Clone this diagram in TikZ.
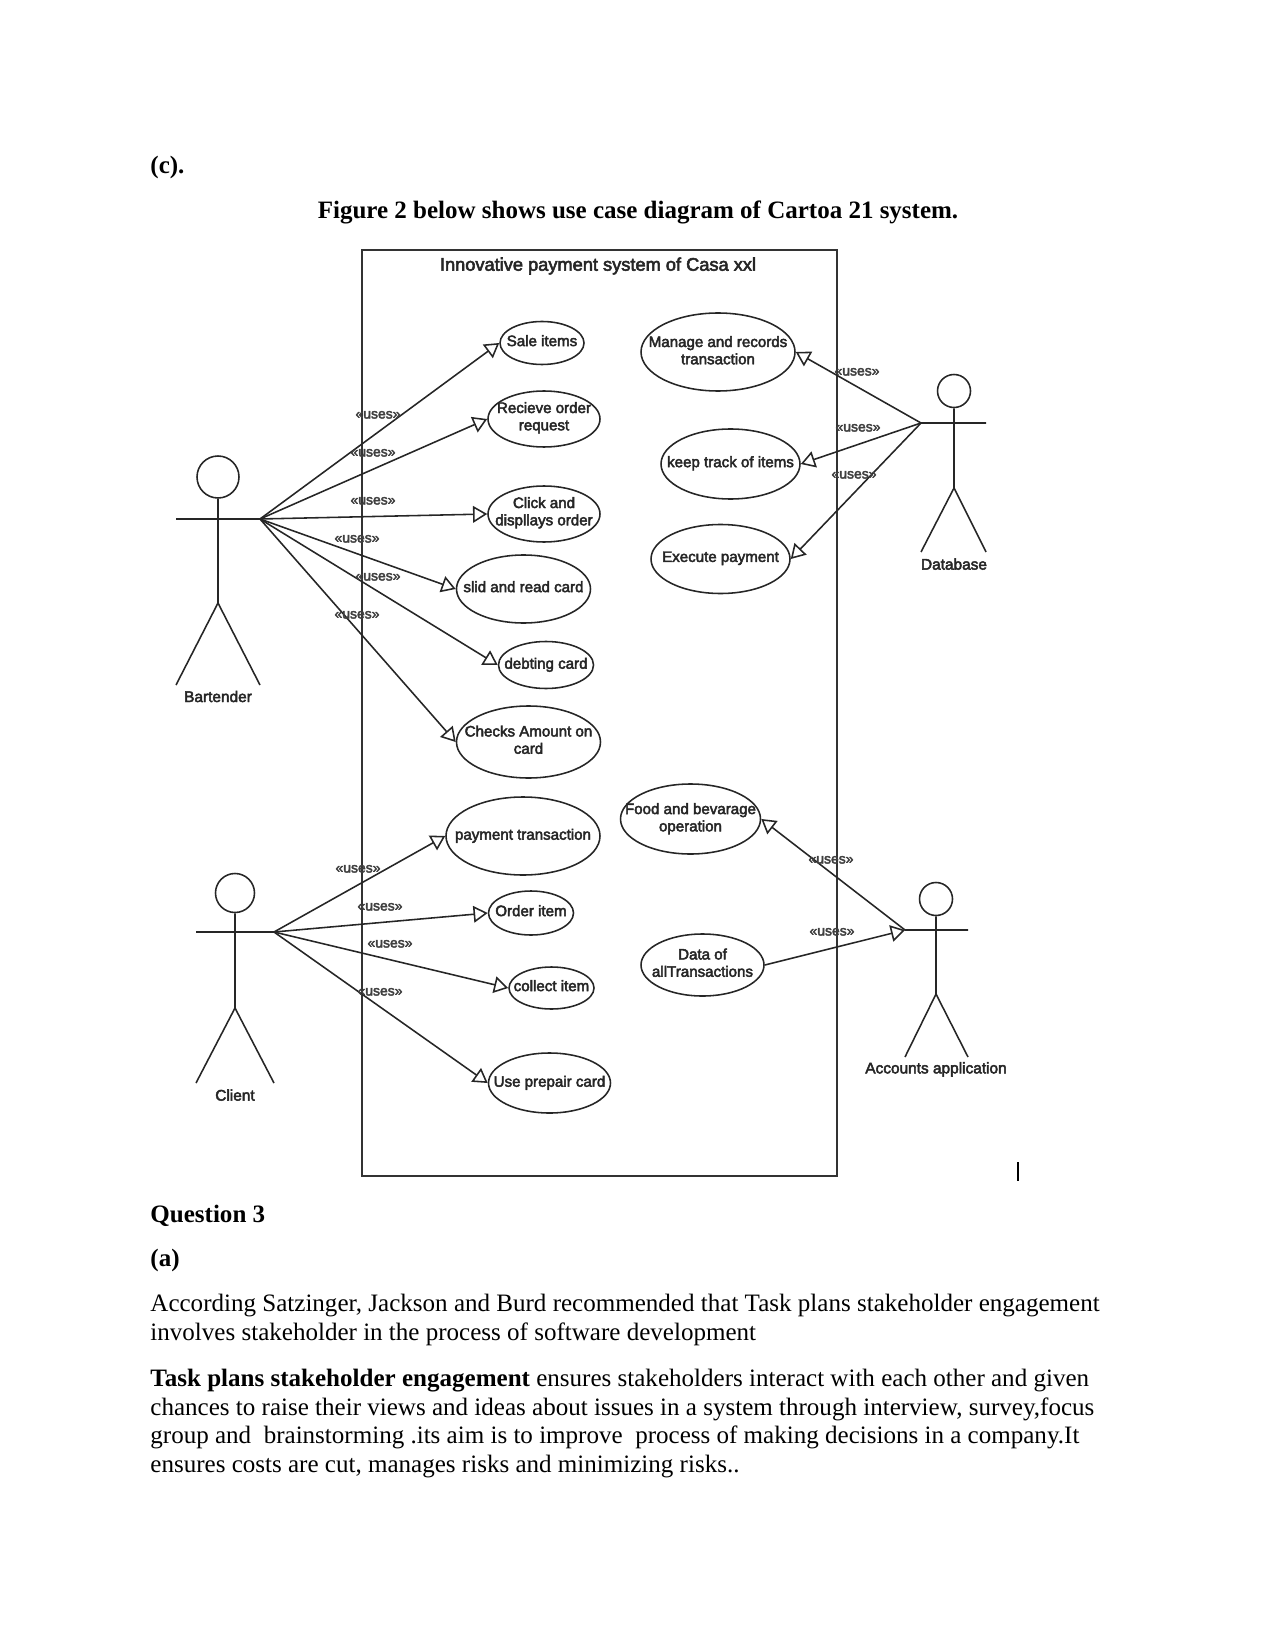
\documentclass[tikz,border=0pt]{standalone}
\usepackage{fontspec}
\setmainfont{Liberation Serif}
\newfontfamily\umlfont[FakeBold=3]{Liberation Sans}
\usetikzlibrary{arrows.meta,positioning,shapes.geometric}
\newcommand{\px}{0.48pt}
% name, x, head y, head size, arm y, left hand, right hand, hip y, foot y
\newcommand{\stickman}[9]{
  \node (#1-head) [headcircle, minimum size=#4*\px] at (#2,#3) {};
  \coordinate (#1-l) at (#6,#5); \coordinate (#1-r) at (#7,#5);
  \coordinate (#1-hip) at (#2,#8); \coordinate (#1-base) at (#2,#9);
  \coordinate (#1-fl) at (#6,#9); \coordinate (#1-fr) at (#7,#9);
  \draw[umlline] (#1-head) -- (#1-hip) (#1-l) -- (#1-r) (#1-fl) -- (#1-hip) -- (#1-fr);
}
\tikzset{
  umlline/.style={line width=0.75pt,black!85},
  headcircle/.style={circle,draw,line width=0.75pt,black!85,inner sep=0pt},
  usecase/.style={ellipse,draw,line width=0.75pt,black!85,inner sep=0pt},
  ucname/.style={font=\umlfont\fontsize{7.25}{8.3}\selectfont,align=center,inner sep=0pt,yshift=1.1pt,text=black!85},
  actorname/.style={font=\umlfont\fontsize{7.4}{8.3}\selectfont,inner sep=0pt,text=black!85},
  useslabel/.style={font=\umlfont\fontsize{6.7}{7}\selectfont,inner sep=0pt,text=black!75,yshift=-0.4pt},
  usesline/.style={umlline,-{Triangle[open,length=6.8pt,width=8pt]}},
  pagetext/.style={font=\fontsize{12.02}{13.8}\selectfont,inner sep=0pt,anchor=west,align=left},
}
\begin{document}
\begin{tikzpicture}[x=0.48pt,y=-0.48pt]
\useasboundingbox (0,0) rectangle (1275,1650);
% text above the figure
\node (partc) [pagetext] at (150,167.5) {\textbf{(c).}};
\node (caption) [font=\fontsize{12}{13.8}\selectfont\bfseries,inner sep=0pt] at (638,212.5) {Figure 2 below shows use case diagram of Cartoa 21 system.};
% system boundary
\node (frame) [draw,line width=0.95pt,black!80,minimum width=475*\px,minimum height=926*\px,inner sep=0pt] at (599.5,713) {};
\node (title) [font=\umlfont\fontsize{8.75}{10}\selectfont,inner sep=0pt,text=black!85] at (598,266) {Innovative payment system of Casa xxl};
% actors
\stickman{bartender}{218}{477}{42}{519}{176}{260}{603}{685}
\stickman{client}{235}{893}{39}{932}{196}{274}{1008}{1083}
\stickman{database}{954}{391}{33}{423}{921}{986}{488}{552}
\stickman{accounts}{936}{899}{33}{930}{905}{968}{994}{1057}
\node (bartenderName) [actorname, below=2.6pt of bartender-base] {Bartender};
\node (clientName) [actorname, below=2.9pt of client-base] {Client};
\node (databaseName) [actorname, below=2.9pt of database-base] {Database};
\node (accountsName) [actorname, below=2.3pt of accounts-base] {Accounts application};
% use cases on the left
\node (saleItems) [usecase,minimum width=84*\px,minimum height=43*\px,label={[ucname]center:Sale items}] at (542,343) {};
\node (recieveOrder) [usecase,minimum width=112*\px,minimum height=56*\px,label={[ucname,yshift=-0.5pt]center:{Recieve order\\request}}] at (544,419) {};
\node (clickDisplay) [usecase,minimum width=112*\px,minimum height=56*\px,label={[ucname,yshift=-0.5pt]center:{Click and\\displlays order}}] at (544,514) {};
\node (slidCard) [usecase,minimum width=134*\px,minimum height=68*\px,label={[ucname]center:slid and read card}] at (523.5,589) {};
\node (debtCard) [usecase,minimum width=95*\px,minimum height=47*\px,label={[ucname,yshift=-1pt]center:debting card}] at (546,665) {};
\node (checkAmount) [usecase,minimum width=144*\px,minimum height=72*\px,label={[ucname]center:{Checks Amount on\\card}}] at (528.5,742) {};
\node (paymentTrans) [usecase,minimum width=154*\px,minimum height=78*\px,label={[ucname,yshift=-1pt]center:payment transaction}] at (523,836) {};
\node (orderItem) [usecase,minimum width=85*\px,minimum height=44*\px,label={[ucname]center:Order item}] at (531,913) {};
\node (collectItem) [usecase,minimum width=85*\px,minimum height=42*\px,label={[ucname]center:collect item}] at (551.5,988) {};
\node (prepairCard) [usecase,minimum width=122*\px,minimum height=60*\px,label={[ucname,yshift=-1pt]center:Use prepair card}] at (549.5,1083) {};
% use cases on the right
\node (manageTrans) [usecase,minimum width=154*\px,minimum height=78*\px,label={[ucname,yshift=-0.25pt]center:{Manage and records\\transaction}}] at (718,352) {};
\node (trackItems) [usecase,minimum width=139*\px,minimum height=70*\px,label={[ucname,yshift=-0.75pt]center:keep track of items}] at (730.5,464) {};
\node (executePay) [usecase,minimum width=139*\px,minimum height=69*\px,label={[ucname,yshift=-0.75pt]center:Execute payment}] at (720.5,559) {};
\node (foodOp) [usecase,minimum width=140*\px,minimum height=70*\px,label={[ucname,yshift=-1pt]center:{Food and bevarage\\operation}}] at (690.5,819) {};
\node (allTrans) [usecase,minimum width=123*\px,minimum height=62*\px,label={[ucname]center:{Data of\\allTransactions}}] at (702.5,965) {};
% connectors
\draw[usesline] (bartender-r) -- (saleItems.west);
\draw[usesline] (bartender-r) -- (recieveOrder.west);
\draw[usesline] (bartender-r) -- (clickDisplay.west);
\draw[usesline] (bartender-r) -- (slidCard.west);
\draw[usesline] (bartender-r) -- (debtCard.west);
\draw[usesline] (bartender-r) -- (checkAmount.west);
\draw[usesline] (client-r) -- (paymentTrans.west);
\draw[usesline] (client-r) -- (orderItem.west);
\draw[usesline] (client-r) -- (collectItem.west);
\draw[usesline] (client-r) -- (prepairCard.west);
\draw[usesline] (database-l) -- (manageTrans.east);
\draw[usesline] (database-l) -- (trackItems.east);
\draw[usesline] (database-l) -- (executePay.east);
\draw[usesline] (accounts-l) -- (foodOp.east);
\draw[usesline] (allTrans.east) -- (accounts-l);
% stereotypes
\node (u1) [useslabel] at (378,414) {«uses»};
\node (u2) [useslabel] at (373,452) {«uses»};
\node (u3) [useslabel] at (373,500) {«uses»};
\node (u4) [useslabel] at (357,538) {«uses»};
\node (u5) [useslabel] at (378,576) {«uses»};
\node (u6) [useslabel] at (357,614) {«uses»};
\node (u7) [useslabel] at (358,868) {«uses»};
\node (u8) [useslabel] at (380,906) {«uses»};
\node (u9) [useslabel] at (390,943) {«uses»};
\node (u10) [useslabel] at (380,991) {«uses»};
\node (u11) [useslabel] at (857,371) {«uses»};
\node (u12) [useslabel] at (858,427) {«uses»};
\node (u13) [useslabel] at (854,474) {«uses»};
\node (u14) [useslabel] at (831,859) {«uses»};
\node (u15) [useslabel] at (832,931) {«uses»};
% text cursor
\coordinate (caretTop) at (1018,1162); \coordinate (caretEnd) at (1018,1181);
\draw[line width=0.8pt] (caretTop) -- (caretEnd);
% text below the figure
\node (question) [pagetext] at (150,1215.5) {\textbf{Question 3}};
\node (parta) [pagetext] at (150,1260.5) {\textbf{(a)}};
\node (paraOne) [pagetext] at (150,1320) {According Satzinger, Jackson and Burd recommended that Task plans stakeholder engagement\\involves stakeholder in the process of software development};
\node (paraTwo) [pagetext] at (150,1423.5) {\textbf{Task plans stakeholder engagement} ensures stakeholders interact with each other and given\\chances to raise their views and ideas about issues in a system through interview, survey,focus\\group and\ \ brainstorming .its aim is to improve\ \ process of making decisions in a company.It\\ensures costs are cut, manages risks and minimizing risks..};
\end{tikzpicture}
\end{document}
